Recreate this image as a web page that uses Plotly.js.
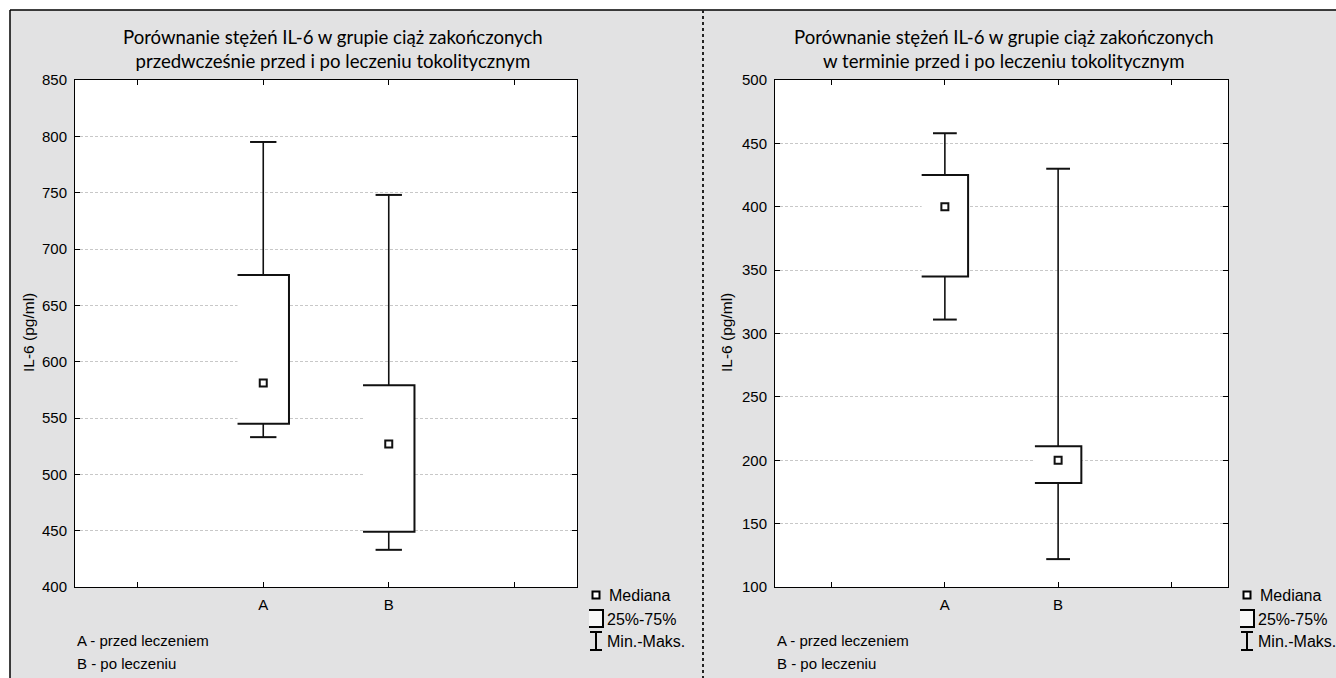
<!DOCTYPE html>
<html><head><meta charset="utf-8">
<script src="https://cdn.plot.ly/plotly-3.0.1.min.js"></script>
<style>html,body{margin:0;padding:0;background:#fff}#chart{width:1336px;height:678px}</style>
</head><body><div id="chart"></div>
<script>
// ---- data ----
const tickLabels = ["", "A", "B", ""];
const groups = ["A", "B"];
const groupPos = [2, 3];
// left panel: ciąże zakończone przedwcześnie
const leftMin = [533, 433];
const leftQ1 = [545, 449];
const leftMedian = [581, 527];
const leftQ3 = [677, 579];
const leftMax = [795, 748];
// right panel: ciąże zakończone w terminie
const rightMin = [311, 122];
const rightQ1 = [345, 182];
const rightMedian = [400, 200];
const rightQ3 = [425, 211];
const rightMax = [458, 430];

const leftTitle = "Porównanie stężeń IL-6 w grupie ciąż zakończonych<br>przedwcześnie przed i po leczeniu tokolitycznym";
const rightTitle = "Porównanie stężeń IL-6 w grupie ciąż zakończonych<br>w terminie przed i po leczeniu tokolitycznym";
const yTitle = "IL-6 (pg/ml)";
const footnotes = ["A - przed leczeniem", "B - po leczeniu"];
const legendLabels = ["Mediana", "25%-75%", "Min.-Maks."];
const leftRange = [400, 850];
const rightRange = [100, 500];

// ---- layout helpers ----
const W = 1336, H = 678;
const px = v => v / W;
const py = v => 1 - v / H;
const HW = 0.205, CW = 0.105;
const TXT = "'Liberation Sans', Arial, sans-serif";

function panelTraces(mn, q1, med, q3, mx, xa, ya) {
  const fx = [], fy = [], bx = [], by = [], wx = [], wy = [], cx = [], cy = [];
  groupPos.forEach((p, i) => {
    fx.push(p - HW, p + HW, p + HW, p - HW, p - HW, null);
    fy.push(q3[i], q3[i], q1[i], q1[i], q3[i], null);
    bx.push(p - HW, p + HW, p + HW, p - HW, null);
    by.push(q3[i], q3[i], q1[i], q1[i], null);
    wx.push(p, p, null, p, p, null);
    wy.push(q3[i], mx[i], null, q1[i], mn[i], null);
    cx.push(p - CW, p + CW, null, p - CW, p + CW, null);
    cy.push(mx[i], mx[i], null, mn[i], mn[i], null);
  });
  const base = {xaxis: xa, yaxis: ya, hoverinfo: "skip", showlegend: false, type: "scatter"};
  return [
    Object.assign({}, base, {x: fx, y: fy, mode: "lines", fill: "toself", fillcolor: "#ffffff", line: {width: 0, color: "rgba(0,0,0,0)"}}),
    Object.assign({}, base, {x: wx, y: wy, mode: "lines", line: {width: 1.6, color: "#111"}}),
    Object.assign({}, base, {x: cx, y: cy, mode: "lines", line: {width: 2, color: "#111"}}),
    Object.assign({}, base, {x: bx, y: by, mode: "lines", line: {width: 2, color: "#111"}}),
    Object.assign({}, base, {x: groupPos, y: med, mode: "markers", marker: {symbol: "square", size: 7, color: "#fff", line: {width: 2, color: "#111"}}})
  ];
}

const data = [].concat(
  panelTraces(leftMin, leftQ1, leftMedian, leftQ3, leftMax, "x", "y"),
  panelTraces(rightMin, rightQ1, rightMedian, rightQ3, rightMax, "x2", "y2")
);

function xAxis(d, anchor) {
  return {domain: d, anchor: anchor, range: [0.5, 4.5], tickmode: "array", tickvals: [1, 2, 3, 4], ticktext: tickLabels,
    ticks: "inside", ticklen: 5, tickcolor: "#000", showline: true, linecolor: "#000", linewidth: 1, mirror: "ticks",
    showgrid: false, zeroline: false, fixedrange: true, ticklabelstandoff: 4, tickfont: {family: TXT, size: 15, color: "#000"}};
}
function yAxis(r, anchor) {
  return {domain: [py(587), py(80)], anchor: anchor, range: r, dtick: 50, tick0: 0,
    ticks: "inside", ticklen: 5, tickcolor: "#000", showline: true, linecolor: "#000", linewidth: 1, mirror: "ticks",
    showgrid: true, gridcolor: "#c8c8c8", griddash: "3px,2px", gridwidth: 1, zeroline: false, fixedrange: true,
    ticklabelstandoff: 4, tickfont: {family: TXT, size: 15, color: "#000"}};
}

const shapes = [
  {type: "rect", xref: "paper", yref: "paper", x0: 0, x1: px(10), y0: 0, y1: 1, fillcolor: "#fff", line: {width: 0}},
  {type: "rect", xref: "paper", yref: "paper", x0: 0, x1: 1, y0: py(10), y1: 1, fillcolor: "#fff", line: {width: 0}},
  {type: "line", xref: "paper", yref: "paper", x0: px(10), x1: 1, y0: py(10), y1: py(10), line: {color: "#000", width: 1.5}},
  {type: "line", xref: "paper", yref: "paper", x0: px(10), x1: px(10), y0: py(10), y1: 0, line: {color: "#000", width: 1.5}},
  {type: "line", xref: "paper", yref: "paper", x0: px(703), x1: px(703), y0: py(10), y1: 0, line: {color: "#222", width: 2, dash: "dot"}}
];
const annotations = [];
function annot(text, x, y, opts) {
  annotations.push(Object.assign({text: text, xref: "paper", yref: "paper", x: px(x), y: py(y), showarrow: false,
    font: {family: TXT, size: 15, color: "#000"}, xanchor: "left", yanchor: "middle"}, opts || {}));
}
[[0, leftTitle], [651, rightTitle]].forEach(([dx, title]) => {
  annot(title, 333 + dx + (dx ? 20 : 0), 49, {xanchor: "center", font: {family: "Lato, 'Liberation Sans', sans-serif", size: 18.6, color: "#000"}});
  annot(yTitle, 28 + dx + (dx ? 47 : 0), 333, {xanchor: "center", textangle: -90, font: {family: TXT, size: 15.5, color: "#000"}});
  const fx = dx ? 775 : 75;
  annot(footnotes[0], fx, 640);
  annot(footnotes[1], fx, 663);
  // legend
  const lx = dx ? 1247 : 596;
  shapes.push({type: "rect", xref: "paper", yref: "paper", x0: px(lx - 3.5), x1: px(lx + 3.5), y0: py(598.5), y1: py(591.5), fillcolor: "#fff", line: {color: "#000", width: 2}});
  shapes.push({type: "rect", xref: "paper", yref: "paper", x0: px(lx - 7), x1: px(lx + 7), y0: py(627), y1: py(610), fillcolor: "#f7f7f7", line: {width: 0}});
  shapes.push({type: "path", xref: "paper", yref: "paper", path: `M ${px(lx - 7)} ${py(610)} L ${px(lx + 7)} ${py(610)} L ${px(lx + 7)} ${py(627)} L ${px(lx - 7)} ${py(627)}`, line: {color: "#000", width: 2}});
  shapes.push({type: "path", xref: "paper", yref: "paper", path: `M ${px(lx - 6)} ${py(632)} L ${px(lx + 6)} ${py(632)} M ${px(lx)} ${py(632)} L ${px(lx)} ${py(650)} M ${px(lx - 6)} ${py(650)} L ${px(lx + 6)} ${py(650)}`, line: {color: "#000", width: 2}});
  annot(legendLabels[0], lx + 11, 595, {font: {family: TXT, size: 16, color: "#000"}});
  annot(legendLabels[1], lx + 9, 619, {font: {family: TXT, size: 16, color: "#000"}});
  annot(legendLabels[2], lx + 9, 641, {font: {family: TXT, size: 16, color: "#000"}});
});

const layout = {
  width: W, height: H, margin: {l: 0, r: 0, t: 0, b: 0},
  paper_bgcolor: "#e2e2e3", plot_bgcolor: "#fff", showlegend: false,
  xaxis: xAxis([px(75), px(577)], "y"),
  yaxis: yAxis(leftRange, "x"),
  xaxis2: xAxis([px(775), px(1228)], "y2"),
  yaxis2: yAxis(rightRange, "x2"),
  shapes: shapes, annotations: annotations
};
Plotly.newPlot("chart", data, layout, {displayModeBar: false, staticPlot: true});
</script></body></html>
